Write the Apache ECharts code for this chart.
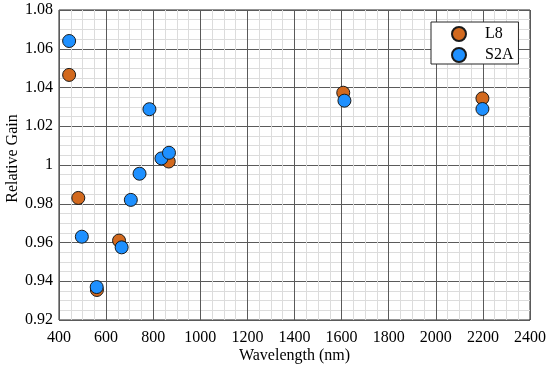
<!DOCTYPE html>
<html>
<head>
<meta charset="utf-8">
<script src="https://cdn.jsdelivr.net/npm/echarts@6/dist/echarts.min.js"></script>
<style>html,body{margin:0;padding:0;background:#fff}#c{width:550px;height:371px}</style>
</head>
<body>
<div id="c"></div>
<script>
var l8Wavelength = [443, 482, 561, 655, 866, 1607, 2198];
var l8Gain = [1.0465, 0.983, 0.9355, 0.961, 1.0018, 1.0373, 1.0344];
var s2aWavelength = [443, 497, 560, 666, 705, 742, 784, 835, 867, 1612, 2198];
var s2aGain = [1.064, 0.963, 0.937, 0.9575, 0.982, 0.9955, 1.0288, 1.0034, 1.0063, 1.0332, 1.0289];
var seriesNames = ['L8', 'S2A'];
var xTitle = 'Wavelength (nm)';
var yTitle = 'Relative Gain';

function pairs(xs, ys) { return xs.map(function (x, i) { return [x, ys[i]]; }); }

var font = "'Liberation Serif', serif";
var chart = echarts.init(document.getElementById('c'));
chart.setOption({
  animation: false,
  backgroundColor: '#fff',
  grid: { left: 59, right: 20, top: 10, bottom: 51, show: true, borderColor: '#262626', borderWidth: 1, backgroundColor: 'transparent', containLabel: false, outerBoundsMode: 'none' },
  legend: {
    orient: 'vertical', left: 431, top: 22,
    data: seriesNames,
    icon: 'circle', itemWidth: 14, itemHeight: 14, itemGap: 5,
    padding: [4, 5, 1, 20],
    backgroundColor: '#fff', borderColor: '#262626', borderWidth: 1,
    textStyle: { fontFamily: font, fontSize: 16, lineHeight: 14, color: '#000', padding: [0, 0, 0, 14] }
  },
  xAxis: {
    type: 'value', min: 400, max: 2400, interval: 200,
    name: xTitle, nameLocation: 'middle', nameGap: 28, nameMoveOverlap: false,
    nameTextStyle: { fontFamily: font, fontSize: 16, color: '#000' },
    axisLine: { show: false }, axisTick: { show: false },
    axisLabel: { fontFamily: font, fontSize: 16, color: '#000', margin: 10, formatter: function (v) { return String(v); } },
    splitLine: { show: true, lineStyle: { color: '#5a5a5a', width: 1 } },
    minorTick: { show: false, splitNumber: 4 },
    minorSplitLine: { show: true, lineStyle: { color: '#dcdcdc', width: 1 } }
  },
  yAxis: {
    type: 'value', min: 0.92, max: 1.08, interval: 0.02,
    name: yTitle, nameLocation: 'middle', nameGap: 38, nameMoveOverlap: false,
    nameTextStyle: { fontFamily: font, fontSize: 16, color: '#000', padding: [0, 0, 0, 13] },
    axisLine: { show: false }, axisTick: { show: false },
    axisLabel: { fontFamily: font, fontSize: 16, color: '#000', margin: 6, formatter: function (v) { return String(Math.round(v * 100) / 100); } },
    splitLine: { show: true, lineStyle: { color: '#5a5a5a', width: 1 } },
    minorTick: { show: false, splitNumber: 4 },
    minorSplitLine: { show: true, lineStyle: { color: '#dcdcdc', width: 1 } }
  },
  series: [
    { name: seriesNames[0], type: 'scatter', symbol: 'circle', symbolSize: 13,
      itemStyle: { color: '#D2691E', borderColor: '#1a1a1a', borderWidth: 1, opacity: 1 },
      data: pairs(l8Wavelength, l8Gain) },
    { name: seriesNames[1], type: 'scatter', symbol: 'circle', symbolSize: 13,
      itemStyle: { color: '#1E90FF', borderColor: '#1a1a1a', borderWidth: 1, opacity: 1 },
      data: pairs(s2aWavelength, s2aGain) }
  ]
});
</script>
</body>
</html>
